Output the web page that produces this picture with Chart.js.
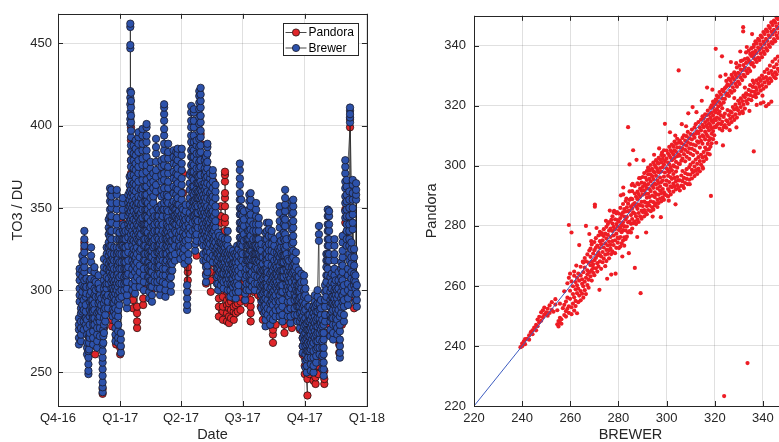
<!DOCTYPE html>
<html>
<head>
<meta charset="utf-8">
<script src="https://cdn.jsdelivr.net/npm/chart.js@4.4.1/dist/chart.umd.min.js"></script>
<style>
  html, body { margin: 0; padding: 0; background: #fff; overflow: hidden; }
  #wrap { position: relative; width: 779px; height: 442px; overflow: hidden; }
  #left { position: absolute; left: 0; top: 0; }
  #right { position: absolute; left: 390px; top: 0; }
</style>
</head>
<body>
<div id="wrap">
  <canvas id="left" width="390" height="442"></canvas>
  <canvas id="right" width="410" height="442"></canvas>
</div>
<script>
// x of the time series = days since 1 Oct 2016
var quarterDays = [0, 92, 182, 273, 365, 457];
var quarterLabels = ['Q4-16', 'Q1-17', 'Q2-17', 'Q3-17', 'Q4-17', 'Q1-18'];
var to3Ticks = [250, 300, 350, 400, 450];
var to3Range = [229.6, 468];
var scatterTicks = [220, 240, 260, 280, 300, 320, 340];
var scatterRange = [220, 350];

// Brewer total ozone, [day, [values DU]]
var brewerByDay = [
  [31, [267,271,276,279,283]],
  [32, [293,297,301,306,310,313]],
  [34, [269,273,277,281,286,289]],
  [36, [287,291,296,299,303,308,312,317,321]],
  [38, [276,281,288,294]],
  [39, [302,306,311,314,318,323,327,331,336]],
  [41, [279,283,287,291,296,301]],
  [42, [298,302,307]],
  [43, [261,265,268,273,277,282]],
  [45, [249,251,255,259,263]],
  [46, [264,268,272]],
  [47, [271,274,279,284,288,293,297,302,306]],
  [49, [286,290,294,299,303,307,312,317,321,326]],
  [51, [282,286,290,294]],
  [52, [267,271,275,279,283,287,291]],
  [54, [279,283,288,292,297,301,306,311,314]],
  [56, [296,300,305]],
  [58, [265,269,273,277,281,286]],
  [60, [283,287,292,296,301,304,309]],
  [62, [272,277,281,284,288,293,297,301]],
  [64, [287,291,295]],
  [66, [238,241,244,248,252,256,259,263,267]],
  [67, [268,272,276]],
  [68, [274,279,283,288,292,297,301,306,311,314,319]],
  [70, [281,285,289,294,298,303]],
  [72, [296,301,304,308,313,317,322,326]],
  [74, [289,293,297]],
  [75, [304,307,312,316,321,326,329,334,338,343]],
  [77, [311,314,318,323,327,332,336,341,345,349,354,358,362]],
  [79, [296,301,305,309,314,318,322,327,331,336,341,345,350,353,357,361]],
  [81, [284,288,292,297,301,306,310,315,319]],
  [83, [287,292,296,300,305,309,313,318,322,326]],
  [85, [269,273,277,281,285,289,294,298,302,306]],
  [87, [300,304,309,313,318,322,326,331,336,340,344,349,353,358,361]],
  [89, [268,271,275,279,284,288,293,297,302,306,310,315,319,323]],
  [91, [291,295,299,304,308,313,317,322,326,331,335]],
  [93, [262,266,270,274]],
  [94, [296,300,304,309,313,317,322,327,331]],
  [96, [327,331,336,340,345,349,353,356]],
  [98, [300,304,308,313,317,322,326,331,335,339]],
  [100, [305,309,313,317,322,326,331,336]],
  [102, [289,293,297,301,305,309,313]],
  [104, [310,314,318,323,327,332,336,340,345,349,353,358]],
  [106, [338,342,347,351,355,360,364,369]],
  [107, [401,404,408,413,417,421,447,449,460,462]],
  [108, [330,334,339,343,348,352,357,361,366,370,375,379,384,388,393,397,402,406,411,415,420]],
  [110, [300,304,309,313,318,322,327,331,336,341,345,350,354,359,364]],
  [112, [316,321,325,330,334,339,343,348,352,357,361,365,370,374,379,383,388]],
  [114, [298,302,306,311,315,319]],
  [115, [320,324,329,333,337,342,346,351,355,360,364,368,373,377,382,386,391]],
  [117, [308,313,317,322,326,331,336,340,345,349,353]],
  [119, [330,334,339,344,348,353,357,362,366,371,375,379,384,389,393,396]],
  [121, [302,306,311,315,320,324,329,333,337,342,346]],
  [123, [325,329,334,338,343,347,352,356,361]],
  [125, [340,344,349,353,358,362,367,371,376,380,385,389,394,398]],
  [127, [300,305,309,313,318,322,327,331,336,340]],
  [129, [318,322,327,331,336,340,345,349,354,358,363]],
  [131, [336,340,345,349,354,358,363,367,372,376,381,385,390,394,399,401]],
  [133, [308,313,317,322,326,331,335,340,344,349,353]],
  [135, [295,299,304,308,312,317,321,326,330]],
  [137, [302,306,311,315,320,324,329,333,338,342,347,351,356,360,365,369,374,378]],
  [139, [293,297,302,306,311,315,320,324,329,333]],
  [141, [326,330,335,339,344,348,353,357,362,366,371]],
  [143, [305,309,314,318,322,327,331,336,340,345]],
  [145, [360,364,369,373,378,383,387,392]],
  [147, [301,305,309,314,318,323,327,332,336,341,345,350]],
  [149, [314,318,323,327,331,336,340,345,349]],
  [151, [297,301,306,310,315,319,324,328]],
  [153, [321,325,330,334,339,343,348,352,357,361,366,370,375,379]],
  [155, [305,309,313,318,322,327,331,336,340,345,349]],
  [157, [349,353,358,362,367,371,376,380,385,389,394,398,403,407,411,413]],
  [159, [296,300,304,309,313,317,322,326,331,335]],
  [161, [318,322,327,331,336,340,345,349,354,358]],
  [163, [326,330,335,339,344,348,353,357,362,366,371,375,380,384,389]],
  [165, [307,311,316,320,324,329,333,338,342]],
  [167, [299,303,308,312,317,321,326,330,335]],
  [169, [312,316,321,325,330,334,339,343,348,352]],
  [171, [341,345,350,354,359,363,368,372,377,381,385]],
  [173, [318,322,327,331,336,340,345,349]],
  [175, [331,335,340,344,349,353,358,362,367,371,376,380,384]],
  [177, [343,347,352,356,361,365,370,374,379,383,386]],
  [179, [326,330,334,339,343,348,352]],
  [181, [319,323,327,332,336,341,345]],
  [183, [346,350,355,359,364,368,373,377,382,386]],
  [185, [322,326,331,335,340,344,349]],
  [187, [316,320,325,329,333,338,342,346]],
  [189, [330,334,339,343,348,352]],
  [191, [288,291,295,299,303]],
  [193, [318,322,327,331,336,340,344]],
  [195, [334,338,343,347,352,356,361,365,370]],
  [197, [372,376,381,385,390,394,399,403,408,412]],
  [199, [336,341,345,350,354,359,363,368,372,377,381,386]],
  [201, [345,349,354,358,363,367,372,376,381,385,390,394,399,403,408,410]],
  [203, [324,328,333,337,342,346,351,355,360]],
  [205, [330,334,339,343,347,352,356,361,365,370,374,379,383,388,391]],
  [207, [338,342,347,351,356,360,365,369]],
  [209, [356,360,365,369,374,378,383,387,392,396,401,405,410,414,418,421]],
  [211, [348,352,357,361,366,370,375,379,384,388,393,397,402,406,411,415,419,423]],
  [213, [329,333,338,342,347,351,356,360,364]],
  [215, [318,322,327,331,336,340,345,349,354,358,363]],
  [217, [334,338,343,347,352,356,361,365,370,374,379]],
  [219, [305,309,314,318,323,327,332,336,341,345,350,354,359,363,368,372,377,381]],
  [221, [311,315,320,324,329,333,338,342,347,351,356,360,365,369,374,378,383,387,389]],
  [223, [326,330,335,339,343,348]],
  [225, [319,323,328,332,337,341,346,350,355,359,364,368,371]],
  [227, [334,338,343,347,351,356,360]],
  [229, [317,321,326,330,335,339,344,348,353,357,362,366,370,373]],
  [231, [327,331,336,340,345]],
  [233, [320,324,329,333,338,342,347,351,356,360,364]],
  [235, [304,308,313,317,322,326]],
  [237, [300,304,309,313,318,322,327,331,335]],
  [239, [311,315,320,324,329,333]],
  [241, [303,307,312,316,321,325,329]],
  [243, [306,310,315,319,324,328,332]],
  [245, [301,305,310,314,319,323,327]],
  [247, [313,317,322,326,331]],
  [249, [306,310,314,319,323,328]],
  [251, [300,304,309,313,318,322,327,331,336]],
  [253, [307,311,316,320,324]],
  [255, [296,300,304,309,313,318,322,325]],
  [257, [303,307,312,316,321]],
  [259, [298,302,307,311,316,320,324]],
  [261, [304,309,313,317,322]],
  [263, [295,299,303,308,312,317,321]],
  [265, [301,305,310,314,319,323,327]],
  [267, [299,303,308,312,317,321,325]],
  [269, [328,332,337,341,346,350,355,359,364,368,373,377]],
  [271, [310,314,319,323,328,332,337,341,346,350,355]],
  [273, [318,322,327,331,336,340,345,349]],
  [275, [330,334,339,343,348]],
  [277, [294,298,302,307,311,316]],
  [279, [300,304,309,313,318,322,327,331]],
  [281, [318,322,327,331,336]],
  [283, [300,304,309,313,318,322,327,331,336,340,345,349,354,358]],
  [285, [306,310,315,319,324,328,333,337,342,346,351,355,359]],
  [287, [302,306,311,315,320,324,328]],
  [289, [318,322,327,331,336,340]],
  [291, [300,304,309,313,318,322,327]],
  [293, [314,318,322,327,331,336,340,345,349,353]],
  [295, [304,308,313,317,322,326,331]],
  [297, [318,322,327,331,336,340,344]],
  [299, [299,303,308,312,317,321,325]],
  [301, [289,293,297,302,306,311,315,320,324,328]],
  [303, [294,298,303,307,312,316,320]],
  [305, [286,290,294,299,303,308,312]],
  [307, [278,282,287,291,295,300,304,309,313,318,322,327,331,335]],
  [309, [300,304,309,313,318,322,326,331,336,341]],
  [310, [285,289,294,298,302,307,311,316]],
  [312, [341,337,333,328,324,320]],
  [314, [279,283,288,292,297,301,305,310]],
  [316, [293,297,302,306,311,315,320,324,328,333,336]],
  [318, [282,286,291,295,299,304,308,312]],
  [320, [296,300,305,309,314,318,323,327,331]],
  [322, [284,288,293,297,302,306,310,315]],
  [324, [301,305,310,314,319,323]],
  [326, [290,294,299,303,308,312,317,321,325]],
  [328, [284,288,293,297,302,306,311,315,320,324,329,333,338,342,347,351]],
  [330, [299,303,308,312,317,322,326,330]],
  [332, [281,285,290,294,299,303,308,312,317,321]],
  [334, [308,312,317,321,326,331,335,340,344]],
  [336, [321,325,330,334,339,343,348,352,356,361]],
  [338, [300,304,309,313,318,322,327,331]],
  [340, [284,288,293,297,302,306,311,315,319]],
  [342, [296,300,305,309,314,318]],
  [344, [280,284,289,293,298,302,307,311]],
  [346, [301,305,310,314,319,323,328,332,337,341,346,350,354]],
  [348, [311,315,320,324,329,333,338,342,347,351,355]],
  [350, [285,289,294,298,303,307,312,316]],
  [352, [296,300,305,309,314,318,323]],
  [354, [281,285,290,294,299,303,308]],
  [356, [290,294,299,303,308,312]],
  [358, [277,281,286,290,295,299,304]],
  [360, [283,287,292,296,301,305,310]],
  [362, [262,266,271,275,280,284,289,293]],
  [364, [269,273,278,282,287,291,296,300,305,309]],
  [366, [253,257,261,266,270,274,279,283,288,292,297,301]],
  [368, [250,254,258,263,267,271,276,280]],
  [370, [259,263,268,272,276,281,285,290,295]],
  [372, [263,267,272,276,281,285,290]],
  [374, [251,255,259,264,268,273,277,282]],
  [376, [266,270,275,279,284,288]],
  [378, [250,254,259,263,268,272,277,281,286,290]],
  [380, [271,275,280,284,289,293,297]],
  [382, [256,260,264,269,273,278,282,287,291]],
  [384, [265,269,274,278,283,287,292,296,300]],
  [386, [339,334,330]],
  [387, [261,265,270,274,279,283,288,292]],
  [389, [276,280,285,289,294]],
  [391, [252,256,260,265,269,274,278,282]],
  [393, [248,252,256,261,265,270,274,279]],
  [395, [281,285,290,294,299,303]],
  [397, [296,300,305,309,314,318,322]],
  [399, [309,313,318,322,327,331,336,340,345,349]],
  [401, [318,322,327,331,336,340,345,348]],
  [403, [272,276,281,285,290,294,299,303,308]],
  [405, [283,287,292,296,301,305,310]],
  [407, [270,274,279,283,288,292,296]],
  [409, [291,295,300,304,309,313,318,322,327,331]],
  [411, [279,283,288,292,297,301,306]],
  [413, [273,277,282,286,291,295,300]],
  [415, [288,292,297,301,306,311]],
  [417, [259,262,266,270,275,279,284]],
  [419, [286,290,295,299,304,308,313,317]],
  [421, [293,297,302,306,311,315,320,324,329,333]],
  [423, [281,285,290,294,299,303]],
  [425, [344,348,353,357,362,366,371,375,379]],
  [427, [327,331,336,340,345,349,354,358,363,367]],
  [429, [291,295,300,304,309,313]],
  [431, [318,322,327,331,336,340,345,350,355,360]],
  [432, [402,405,409,411,407]],
  [434, [298,302,307,311,316,320,325,329]],
  [436, [337,341,346,350,355,359,364,367]],
  [438, [303,306,310,315,320,325]],
  [440, [293,297,301,305,309]],
  [441, [355,358,361,365]],
  [442, [290,294,298,303]]
];

// Pandora total ozone, [day, [values DU]]
var pandoraByDay = [
  [39, [325,329]],
  [45, [263,267,272]],
  [50, [270,274,279,282]],
  [55, [261,266]],
  [58, [281,284,288]],
  [63, [278,283]],
  [66, [237,240]],
  [68, [277,282,286,291]],
  [72, [292,296,301]],
  [80, [278,282,287,290]],
  [86, [267,272]],
  [92, [261,265]],
  [95, [331,336,341,345]],
  [108, [341,351,359,371,379,391,399]],
  [111, [289,294,298]],
  [114, [361,369,375,378,381]],
  [117, [277,281,286,290]],
  [120, [344,350,356,361]],
  [126, [291,295,301,305]],
  [132, [321,329,341,349]],
  [138, [299,311,319,331]],
  [144, [331,339,351,359]],
  [149, [301,309,321]],
  [155, [331,339,351,359,371]],
  [161, [299,306,311,315]],
  [167, [311,319,331]],
  [173, [341,349,361,369]],
  [180, [321,329,341,345]],
  [185, [339,351,359,371]],
  [192, [299,306,311,314]],
  [199, [361,369,381,389]],
  [205, [321,329,341,349]],
  [211, [361,369,381,389,395]],
  [217, [331,339,351,359]],
  [219, [304,310,316,321]],
  [222, [339,346,350,356,361]],
  [226, [299,306,311,316,321]],
  [230, [334,341,345,351,355,361,366]],
  [234, [309,316,321]],
  [238, [284,290,295,301,305]],
  [241, [321,324,331,335,341,345,351]],
  [244, [282,287,290,296,300]],
  [247, [304,309,316,321,324,331,336,341,344,351,356,359,366,370,372]],
  [250, [281,286,291,294,299]],
  [253, [280,284,289,292,296]],
  [256, [283,288,293,296]],
  [260, [282,287,290,295,298,303,306]],
  [263, [286,291,294]],
  [266, [287,292,297,300,304]],
  [270, [288,293,296,301,304]],
  [273, [299,305,311]],
  [276, [294,301,305]],
  [280, [292,297,300]],
  [285, [281,286,290,294]],
  [290, [299,305,311]],
  [296, [297,302,307]],
  [300, [290,295,298]],
  [303, [282,287]],
  [309, [289,296,300]],
  [312, [279,284,288]],
  [318, [268,273,276,281]],
  [322, [279,284,289]],
  [328, [284,290,296]],
  [335, [274,279,282,287]],
  [340, [289,295,301]],
  [346, [277,282,287]],
  [352, [284,291,295]],
  [358, [276,281,285]],
  [362, [261,266,271]],
  [365, [249,254,259]],
  [369, [236,246,250,255]],
  [372, [249,254,258]],
  [375, [255,261]],
  [378, [245,250]],
  [381, [243,247,250,254]],
  [385, [249,254,259,262]],
  [390, [261,266,271]],
  [394, [243,246,251]],
  [398, [274,281,285]],
  [402, [279,285]],
  [406, [281,285,291]],
  [410, [284,290,296]],
  [416, [262,267,270]],
  [420, [279,285,291]],
  [425, [334,341,349]],
  [432, [399,404]],
  [438, [289,295,301]]
];

// Pandora against BREWER, [BREWER, [Pandora values]]
var pandoraByBrewer = [
  [239.3,[239.6]], [240.0,[240.8,239.9]], [240.7,[241.5]], [241.2,[240.6,242.3]], [242.0,[242.4]],
  [242.9,[243.5,242.1]], [243.6,[244.6]], [244.3,[243.9,245.2]], [245.0,[246.1]], [245.8,[245.2,247.0]],
  [246.4,[246.6,248.8]], [247.1,[249.7,247.9]], [247.9,[248.4,251.2]], [248.6,[251.9,249.6]], [249.2,[252.8,250.4]],
  [250.0,[251.2]], [250.6,[252.4,250.1]], [251.4,[253.5,251.0]], [252.3,[254.6,252.0]], [253.0,[251.4]],
  [253.8,[253.8,255.6]], [254.6,[247.2,251.9]], [255.1,[246.5,248.3]], [255.7,[247.8,249.4,254.1]],
  [256.3,[248.9,247.4]], [256.9,[252.6]],
  [257.5,[250.3,253.7,258.2]], [258.2,[251.6,254.8,249.8]], [258.8,[256.1,260.9,252.4]],
  [259.4,[251.0,253.2,262.7,280.3]], [259.9,[255.7,258.4,264.1]], [260.5,[250.6,252.9,261.5,277.8]],
  [261.1,[254.1,257.3,259.9]], [261.6,[251.8,256.2,263.4,264.8]], [262.2,[253.3,255.0,258.9,261.3]],
  [262.8,[250.9,257.6,260.2,262.7]], [263.3,[254.6,259.1,264.1]], [263.7,[256.8,261.8,273.6]],
  [264.3,[255.2,258.3,263.5,266.4]], [264.9,[257.4,260.7,262.2]], [265.4,[256.1,259.9,264.6,267.8]],
  [266.0,[258.6,261.4,266.1,269.3]], [266.5,[262.7,257.3,280.0,268.2]], [267.1,[260.3,263.9,265.2,270.5]],
  [267.6,[259.4,262.1,267.8]], [267.9,[277.3,264.6,271.8]],
  [268.4,[263.2,266.9,269.7,272.4]], [268.9,[261.8,265.3,268.1,273.8]], [269.5,[264.4,267.2,270.8,266.0]],
  [270.0,[263.6,268.6,271.9,274.6]], [270.2,[286.4,287.1]], [270.6,[265.9,269.3,272.7,275.9]],
  [271.2,[264.8,267.6,270.1,273.4]], [271.7,[266.5,271.2,276.8]], [272.3,[278.0,268.2,272.6,274.9,270.3]],
  [272.8,[265.7,269.8,273.9,277.1]], [273.4,[267.9,271.3,275.2]], [273.9,[269.1,272.8,276.6,278.9]],
  [274.5,[266.6,270.4,274.1,277.4]], [275.0,[268.3,272.0,275.8,279.7]], [275.6,[270.7,273.5,277.0,280.6]],
  [276.1,[269.2,271.9,274.8,278.4,281.3]], [276.7,[272.4,276.3,279.1,273.7]], [277.0,[263.8,270.6,282.0]],
  [277.5,[271.5,274.9,278.3,280.8,283.2]], [278.0,[273.6,276.8,279.7,284.6]], [278.2,[285.0]],
  [278.6,[270.9,275.2,278.9,282.2]], [279.1,[272.7,277.4,280.6,284.2]], [279.7,[274.4,276.1,279.8,281.9]],
  [280.2,[272.6,275.8,278.6,281.4,284.1]], [280.8,[273.1,276.3,279.4,282.6,286.0]], [281.3,[274.2,277.9,280.3,283.7]],
  [281.9,[275.1,278.6,281.2,284.5,287.3]], [282.0,[290.5,292.8]], [282.4,[273.4,276.2,279.9,283.1,285.6]],
  [283.0,[275.6,278.5,282.1,284.8,288.3]], [283.5,[276.4,279.8,283.0,286.2]], [284.0,[312.9,277.8,281.2,284.9,287.4]],
  [284.6,[278.3,281.4,285.1,288.7,291.5,300.5]], [285.2,[277.8,280.7,283.6,286.5,289.1]], [285.7,[279.1,282.3,285.8,288.9,291.6]],
  [285.9,[294.0]], [286.1,[305.2,280.9,284.5,287.2]], [286.8,[266.0,281.4,284.1,287.6,290.8,293.3]],
  [287.3,[280.6,283.2,286.5,289.7]], [287.5,[302.0]], [287.9,[282.1,285.7,288.9,291.4,294.2]],
  [288.4,[281.3,284.3,287.1,290.6,293.8]], [289.0,[283.2,286.8,289.7,292.4,295.9]], [289.2,[257.6]],
  [289.6,[282.4,285.1,288.0,291.7,294.4]], [290.1,[284.6,286.6,290.4,293.0,296.3]], [290.7,[283.2,285.3,288.1,291.8,294.2,297.6]],
  [291.2,[284.4,287.8,290.7,293.5,296.1]], [291.8,[283.9,286.6,289.4,292.6,295.3,298.3]],
  [292.3,[285.3,287.6,290.7,293.9,297.2,299.4]], [292.9,[286.8,289.6,292.3,295.7,298.4]],
  [293.4,[284.9,288.2,291.6,294.8,297.1,300.3]], [294.0,[286.2,290.1,293.4,296.6,299.0]],
  [294.5,[285.4,287.9,292.7,295.6,298.2,301.1]], [295.1,[286.8,289.6,291.2,294.1,297.8,300.2]],
  [295.6,[287.5,290.6,293.8,296.7,299.5,301.9]], [296.2,[286.3,288.7,292.5,295.2,298.6,301.0]],
  [296.7,[287.6,290.4,294.3,297.9,300.8,302.7]], [297.3,[289.1,291.8,293.2,296.1,299.3,302.1]],
  [297.8,[288.2,290.9,294.6,298.1,301.2,303.6]], [298.4,[289.5,292.3,295.1,299.6,302.3]],
  [298.9,[288.7,291.2,296.4,300.5,303.4,305.2]], [299.3,[314.0,290.4,293.8,297.8,301.6]],
  [300.0,[290.2,293.6,295.1,299.2,302.4,305.1]], [300.6,[289.8,292.3,296.7,298.5,301.1,304.2]],
  [301.1,[291.6,294.6,297.9,300.5,303.4,306.3]], [301.7,[290.5,293.2,296.2,299.4,302.7,305.2]],
  [302.2,[292.9,295.7,298.5,301.9,304.6,307.1]], [302.8,[291.4,294.1,297.3,300.2,303.8,306.4]],
  [303.3,[293.1,296.0,299.8,302.6,305.2,308.1]], [303.9,[292.2,294.9,298.1,301.3,304.7,307.3]],
  [304.4,[293.6,296.3,299.4,303.2,306.1,309.0]], [305.0,[331.8,292.8,295.2,300.8,303.8,307.7]],
  [305.5,[291.8,295.2,300.6,303.4,306.2,308.4]], [306.1,[293.4,296.8,301.7,304.9,307.6]],
  [306.6,[294.9,298.3,302.4,305.8,309.3]], [307.2,[292.6,296.0,303.9,307.1,310.2]],
  [307.7,[294.3,297.6,301.5,305.3,308.4]], [308.3,[295.7,298.9,303.0,306.7,309.9]],
  [308.8,[293.9,297.2,304.6,307.9,311.3]], [309.0,[317.5]],
  [309.4,[295.4,299.6,302.3,305.8,309.2]], [309.9,[297.1,300.4,304.1,307.3,310.6]],
  [310.5,[295.8,298.7,305.7,308.8,312.1]], [311.0,[297.9,301.2,303.6,307.1,310.3]],
  [311.6,[296.6,299.8,305.2,309.4,312.8]], [312.1,[298.4,302.1,306.8,310.7,313.9]],
  [312.7,[297.3,300.7,304.4,308.2,311.5]], [313.2,[299.1,302.9,307.7,310.9,314.6]],
  [313.8,[298.2,301.6,306.1,309.6,312.8]], [314.3,[300.4,303.7,308.3,311.8,315.4]],
  [314.9,[299.6,302.8,307.4,310.2,313.7,316.5]], [315.4,[301.5,304.6,309.7,312.9,315.8]],
  [316.0,[303.2,306.1,308.8,311.4,314.6,317.2]], [316.5,[302.3,305.4,310.6,313.5,316.9]],
  [317.1,[304.1,307.3,309.9,312.7,315.3,318.4]], [317.6,[305.6,308.5,311.8,314.2,317.1]],
  [318.2,[306.4,309.2,313.3,316.0,319.3]], [318.4,[290.0]],
  [318.7,[307.5,310.7,312.6,315.1,317.7,320.2]], [319.3,[308.9,311.6,314.4,316.8,319.5,321.4]],
  [319.8,[310.2,312.9,315.6,318.3,320.8]],
  [320.4,[339.0,312.9,315.2,317.8,320.6,322.1]], [320.9,[313.6,316.1,318.9,321.7,323.4]],
  [321.5,[314.2,317.5,319.8,322.9]], [322.0,[312.4,315.6,318.1,321.2,324.6]],
  [322.6,[313.9,316.8,320.3,323.7]], [323.0,[336.5]], [323.1,[311.8,314.7,319.2,322.4,325.3]],
  [323.7,[312.9,316.3,321.1,324.8]], [323.9,[223.3]], [324.2,[313.6,317.4,322.3,325.9]],
  [324.8,[312.7,315.2,323.6,326.4,328.3]], [325.3,[314.8,318.6,324.1,327.2]],
  [325.9,[313.9,316.9,323.3,326.8,329.1]], [326.4,[315.7,318.2,325.0,328.5]],
  [327.0,[314.6,317.8,324.4,327.6,330.3]], [327.5,[316.4,319.6,326.2,329.4]],
  [328.1,[315.3,318.8,322.6,325.1,328.7,331.2]], [328.6,[317.2,320.4,327.3,330.4]],
  [329.2,[316.1,319.3,326.4,329.6,332.8]], [329.7,[318.5,321.7,328.1,331.0]],
  [330.3,[317.4,320.8,327.3,330.6,333.4]], [330.8,[319.6,322.5,329.4,332.1,334.9]],
  [331.4,[318.2,321.6,328.6,331.9,335.1]], [331.8,[344.8,346.2]],
  [331.9,[320.4,323.4,330.3,333.6]], [332.5,[319.1,322.9,326.1,329.8,332.7,335.6]],
  [333.0,[321.6,324.2,331.7,334.3,337.8]], [333.6,[234.3,320.8,323.7,330.9,335.8]],
  [334.1,[322.2,325.3,332.4,335.2,338.4]], [334.7,[323.6,326.9,331.6,334.5,337.3]],
  [335.2,[321.9,324.8,333.8,336.6,339.2]], [335.8,[323.2,326.3,328.4,334.2,337.8]],
  [336.2,[304.8,335.9,339.6]], [336.3,[324.7,327.6,333.1,336.9,340.4]],
  [336.9,[323.9,326.2,335.4,338.3,341.5]], [337.4,[320.3,325.3,328.5,334.6,337.6,340.8]],
  [338.0,[324.2,327.4,336.1,339.4,342.3]], [338.5,[326.3,329.2,335.3,338.6,341.7]],
  [339.1,[320.8,325.1,328.3,337.4,340.5,343.4]], [339.6,[326.9,330.1,336.2,339.3,342.8]],
  [340.2,[321.2,325.7,329.2,338.1,341.4,344.6]], [340.7,[327.8,331.3,337.3,340.6,343.9]],
  [341.3,[319.9,326.4,329.6,339.2,342.3,345.4]], [341.8,[328.6,332.2,338.4,341.6,344.8]],
  [342.4,[320.6,327.5,330.9,340.3,343.5,346.6]], [342.9,[329.2,333.4,339.6,342.9,345.9]],
  [343.5,[321.4,328.3,331.6,341.2,344.7,347.8]], [344.0,[330.4,334.7,340.8,343.8,346.9]],
  [344.6,[329.6,332.9,342.2,345.3,348.4]], [345.1,[331.2,335.6,341.5,344.6,347.7]],
  [345.7,[330.5,333.8,343.4,346.5,349.4]], [346.2,[332.3,336.4,342.6,345.8,348.9]],
  [346.8,[331.6,334.9,344.3,347.4]],
  // sparse points on both edges of the band
  [262.5,[266.8]], [265.2,[268.1]], [268.7,[274.9]], [270.9,[279.3]], [273.1,[277.6]], [274.8,[281.7]],
  [276.4,[285.1]], [279.4,[284.6]], [281.0,[290.2]], [283.3,[289.1]], [285.5,[293.6]], [288.6,[295.9]],
  [290.4,[301.8]], [292.6,[299.1]], [294.8,[303.7]], [296.9,[305.8]], [298.1,[304.4]], [301.4,[311.2]],
  [303.6,[310.1]], [306.3,[313.9]], [308.1,[313.2]], [310.8,[319.6]], [312.4,[317.9]], [314.6,[321.7]],
  [316.8,[326.1]], [319.0,[325.4]], [322.3,[329.8]], [324.5,[330.4]], [326.7,[334.6]], [328.9,[334.2]],
  [330.6,[338.1]], [333.3,[339.6]], [335.5,[343.9]],
  [272.1,[258.7]], [275.3,[262.4]], [278.8,[264.1]], [281.6,[269.8]], [284.3,[270.9]], [287.8,[276.3]],
  [291.5,[277.8]], [294.2,[283.1]], [297.6,[282.9]], [300.9,[288.4]], [303.7,[287.2]], [306.8,[293.3]],
  [309.6,[293.9]], [312.3,[298.6]], [315.1,[299.1]], [317.9,[303.8]], [320.6,[307.7]], [323.4,[306.8]],
  [326.2,[311.9]], [329.0,[312.8]], [331.7,[317.6]], [334.4,[318.3]], [337.1,[322.9]], [339.8,[323.4]],
  [342.6,[327.6]], [345.3,[329.2]]
];
var oneToOne = [220, 350];

var FONT = "'Liberation Sans', Arial, Helvetica, sans-serif";
var INK = '#262626';
var GRID = 'rgba(38,38,38,0.14)';

function groupedPoints(rows) {
  var pts = [];
  rows.forEach(function(r) {
    r[1].forEach(function(v) { pts.push({x: r[0], y: v}); });
  });
  return pts;
}

// matlab-like box with inward ticks on all four sides
var boxPlugin = {
  id: 'boxPlugin',
  afterDraw: function(chart) {
    var ctx = chart.ctx, a = chart.chartArea;
    var sx = chart.scales.x, sy = chart.scales.y;
    var tl = 5;
    ctx.save();
    ctx.strokeStyle = INK;
    ctx.lineWidth = 1;
    ctx.beginPath();
    sx.ticks.forEach(function(t) {
      var px = Math.round(sx.getPixelForValue(t.value)) + 0.5;
      ctx.moveTo(px, a.bottom); ctx.lineTo(px, a.bottom - tl);
      ctx.moveTo(px, a.top); ctx.lineTo(px, a.top + tl);
    });
    sy.ticks.forEach(function(t) {
      var py = Math.round(sy.getPixelForValue(t.value)) + 0.5;
      ctx.moveTo(a.left, py); ctx.lineTo(a.left + tl, py);
      ctx.moveTo(a.right, py); ctx.lineTo(a.right - tl, py);
    });
    ctx.stroke();
    ctx.strokeRect(Math.round(a.left) + 0.5, Math.round(a.top) + 0.5,
      Math.round(a.right - a.left), Math.round(a.bottom - a.top));
    ctx.restore();
  }
};

// legend in the upper right of the plot, marker on a line segment
var boxLegend = {
  id: 'boxLegend',
  afterDraw: function(chart) {
    var ctx = chart.ctx, a = chart.chartArea;
    var items = chart.data.datasets.slice().sort(function(p, q) { return p.legendOrder - q.legendOrder; });
    ctx.save();
    ctx.font = '12px ' + FONT;
    var tw = 0;
    items.forEach(function(d) { tw = Math.max(tw, ctx.measureText(d.label).width); });
    var w = Math.round(tw + 30), h = 32;
    var x0 = Math.round(a.right - 9 - w) + 0.5, y0 = Math.round(a.top + 9) + 0.5;
    ctx.fillStyle = '#fff';
    ctx.fillRect(x0, y0, w, h);
    ctx.strokeStyle = INK;
    ctx.lineWidth = 1;
    ctx.strokeRect(x0, y0, w, h);
    items.forEach(function(d, i) {
      var cy = y0 + 9 + i * 15.5;
      ctx.strokeStyle = '#1a1a1a';
      ctx.lineWidth = 0.8;
      ctx.beginPath(); ctx.moveTo(x0 + 2, cy); ctx.lineTo(x0 + 23, cy); ctx.stroke();
      ctx.beginPath(); ctx.arc(x0 + 12.5, cy, 3.6, 0, Math.PI * 2);
      ctx.fillStyle = d.pointBackgroundColor; ctx.fill();
      ctx.strokeStyle = d.pointBorderColor; ctx.stroke();
      ctx.fillStyle = '#000';
      ctx.textBaseline = 'middle';
      ctx.fillText(d.label, x0 + 25, cy + 0.5);
    });
    ctx.restore();
  }
};

function axis(opts) {
  return {
    type: 'linear',
    min: opts.range[0],
    max: opts.range[1],
    afterBuildTicks: function(s) { s.ticks = opts.ticks.map(function(v) { return {value: v}; }); },
    afterFit: function(s) { if (opts.width) s.width = opts.width; if (opts.height) s.height = opts.height; },
    grid: { color: GRID, lineWidth: 1, drawTicks: false },
    border: { display: false },
    ticks: {
      autoSkip: false, maxRotation: 0, padding: opts.pad,
      color: INK, font: { family: FONT, size: 13 },
      callback: opts.labels ? function(v, i) { return opts.labels[i]; } : function(v) { return v; }
    },
    title: {
      display: true, text: opts.title, color: INK,
      font: { family: FONT, size: 14.5, lineHeight: 1 },
      padding: opts.titlePad
    }
  };
}

new Chart(document.getElementById('left'), {
  type: 'scatter',
  data: {
    datasets: [
      {
        label: 'Brewer', legendOrder: 1, order: 0,
        data: groupedPoints(brewerByDay), showLine: true,
        borderColor: '#1a1a1a', borderWidth: 0.7,
        pointRadius: 3.7, pointBorderWidth: 0.8,
        pointBackgroundColor: '#2d52ab', pointBorderColor: '#1b1b2a'
      },
      {
        label: 'Pandora', legendOrder: 0, order: 1,
        data: groupedPoints(pandoraByDay), showLine: true,
        borderColor: '#1a1a1a', borderWidth: 0.7,
        pointRadius: 3.7, pointBorderWidth: 0.8,
        pointBackgroundColor: '#e0262a', pointBorderColor: '#2a1010'
      }
    ]
  },
  options: {
    responsive: false, animation: false,
    layout: { padding: { top: 13, right: 18, left: 0, bottom: 0 } },
    plugins: { legend: { display: false }, tooltip: { enabled: false } },
    scales: {
      x: axis({ range: [quarterDays[0], quarterDays[quarterDays.length - 1]], ticks: quarterDays, labels: quarterLabels,
                height: 36, pad: 5, title: 'Date', titlePad: { top: 0, bottom: 0 } }),
      y: axis({ range: to3Range, ticks: to3Ticks, width: 58, pad: 6, title: 'TO3 / DU', titlePad: { top: 11, bottom: 0 } })
    }
  },
  plugins: [boxPlugin, boxLegend]
});

new Chart(document.getElementById('right'), {
  type: 'scatter',
  data: {
    datasets: [
      {
        label: '1:1', type: 'line',
        data: oneToOne.map(function(v) { return {x: v, y: v}; }),
        borderColor: '#3d5cc0', borderWidth: 1, pointRadius: 0
      },
      {
        label: 'Pandora vs BREWER',
        data: groupedPoints(pandoraByBrewer),
        pointRadius: 2.1, pointBorderWidth: 0,
        backgroundColor: '#ee1d25', pointBackgroundColor: '#ee1d25'
      }
    ]
  },
  options: {
    responsive: false, animation: false,
    layout: { padding: { top: 13, right: 13, left: 0, bottom: 0 } },
    plugins: { legend: { display: false }, tooltip: { enabled: false } },
    scales: {
      x: axis({ range: scatterRange, ticks: scatterTicks, height: 36, pad: 5, title: 'BREWER', titlePad: { top: 0, bottom: 0 } }),
      y: axis({ range: scatterRange, ticks: scatterTicks, width: 84, pad: 8, title: 'Pandora', titlePad: { top: 35, bottom: 0 } })
    }
  },
  plugins: [boxPlugin]
});
</script>
</body>
</html>
